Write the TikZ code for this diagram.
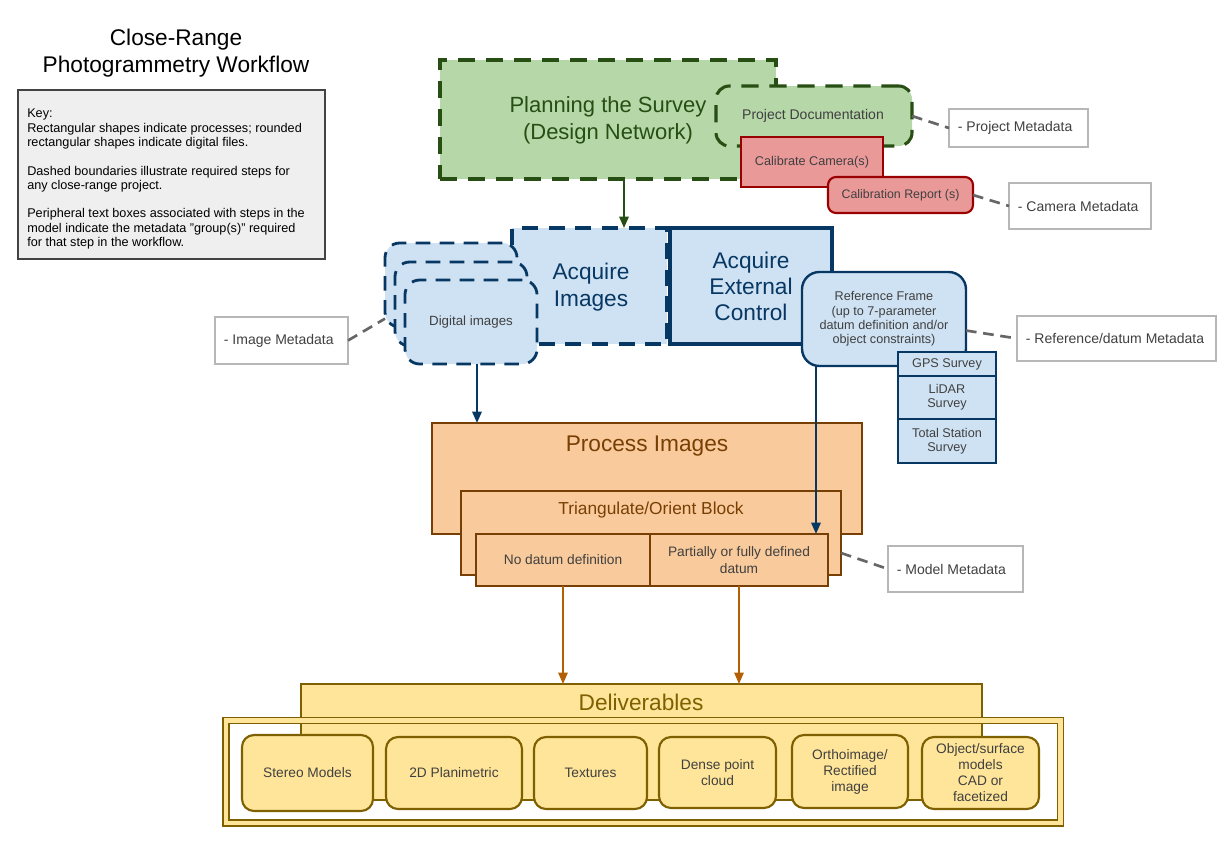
\documentclass[tikz,border=0pt]{standalone}
\usepackage{fontspec}
\setmainfont{Liberation Sans}
\usetikzlibrary{arrows.meta,fit}
\definecolor{greenF}{HTML}{B6D7A8}
\definecolor{greenD}{HTML}{274E13}
\definecolor{redF}{HTML}{EA9999}
\definecolor{redD}{HTML}{990000}
\definecolor{blueF}{HTML}{CFE2F3}
\definecolor{blueD}{HTML}{073763}
\definecolor{orangeF}{HTML}{F9CB9C}
\definecolor{orangeD}{HTML}{783F04}
\definecolor{orangeA}{HTML}{B45F06}
\definecolor{yellowF}{HTML}{FFE599}
\definecolor{yellowD}{HTML}{7F6000}
\definecolor{keyF}{HTML}{EFEFEF}
\definecolor{keyD}{HTML}{434343}
\definecolor{metaD}{HTML}{B7B7B7}
\definecolor{lineG}{HTML}{666666}
\definecolor{textgray}{HTML}{404040}
\newcommand\mymeta[6]{%
  \node[metabox, fit={(#2,#3)(#4,#5)}] (#1) {};
  \node[metatext, anchor=west] (#1t) at ([xshift=6.5pt]#1.west) {#6};
}
\newcommand\intext[4][]{%
  \node[txt, #1] (#2t) at (#2.center) {#4};
}
\begin{document}
\begin{tikzpicture}[x=0.75pt,y=-0.75pt,
  box/.style={inner sep=0pt, outer sep=0pt},
  txt/.style={inner sep=0pt, align=center, text=textgray},
  greenbox/.style={box, draw=greenD, fill=greenF, line width=2.3pt, dash pattern=on 13pt off 8pt},
  bluedash/.style={box, draw=blueD, fill=blueF, line width=2.3pt, dash pattern=on 12pt off 8pt},
  digbox/.style={box, draw=blueD, fill=blueF, line width=2.1pt, rounded corners=11pt, dash pattern=on 11pt off 7pt},
  gpscell/.style={box, draw=blueD, fill=blueF, line width=1.6pt},
  small/.style={font=\fontsize{9.5}{10.7}\selectfont},
  procbox/.style={box, draw=orangeD, fill=orangeF, line width=1.6pt},
  dbox/.style={box, draw=yellowD, fill=yellowF, line width=1.6pt, rounded corners=9pt},
  dfont/.style={font=\fontsize{10.3}{12}\selectfont},
  big/.style={font=\fontsize{17}{20.25}\selectfont},
  metabox/.style={box, draw=metaD, fill=white, line width=1.1pt},
  metatext/.style={inner sep=0pt, text=textgray, font=\fontsize{10.5}{12}\selectfont},
  metaline/.style={draw=lineG, line width=2pt, dash pattern=on 8pt off 5pt},
  arr/.style={line width=1.5pt, -{Triangle[length=8.5pt,width=7pt]}},
]
\useasboundingbox (0,0) rectangle (1228,857);

% title and key
\node[align=center, inner sep=0pt, font=\fontsize{17}{20.25}\selectfont] (title) at (176,53) {Close-Range\\Photogrammetry Workflow};
\node[box, draw=keyD, fill=keyF, line width=1.5pt, fit={(18,90)(325,259)}] (keybox) {};
\node[anchor=north west, align=left, inner sep=0pt, font=\fontsize{9.5}{10.7}\selectfont] (keytext) at (27,109) {Key:\\Rectangular shapes indicate processes; rounded\\rectangular shapes indicate digital files.\\[10.7pt]Dashed boundaries illustrate required steps for\\any close-range project.\\[10.7pt]Peripheral text boxes associated with steps in the\\model indicate the metadata "group(s)" required\\for that step in the workflow.};

% planning
\node[greenbox, fit={(440,60)(776,179)}] (plan) {};
\node[align=center, inner sep=0pt, text=greenD, font=\fontsize{16.5}{20}\selectfont] (plantext) at (608,120) {Planning the Survey\\(Design Network)};
\node[greenbox, rounded corners=10pt, fit={(716,86)(912,146)}] (projdoc) {};
\node[txt, font=\fontsize{10.5}{12}\selectfont] (projdoct) at (813,116) {Project Documentation};
\node[box, draw=redD, fill=redF, line width=1.6pt, fit={(741,137)(883,187)}] (calcam) {};
\intext[font=\fontsize{9.5}{11}\selectfont]{calcam}{}{Calibrate Camera(s)}
\node[box, draw=redD, fill=redF, line width=1.6pt, rounded corners=6pt, fit={(828,177)(973,213)}] (calrep) {};
\intext[font=\fontsize{9.3}{11}\selectfont]{calrep}{}{Calibration Report (s)}

% acquire
\node[bluedash, fit={(512,228)(667,344)}] (acqimg) {};
\node[txt, big, text=blueD] (acqimgt) at (591,287) {Acquire\\Images};
\node[box, draw=blueD, fill=blueF, line width=2.3pt, fit={(670,228)(832,344)}] (extctl) {};
\intext[font=\fontsize{17}{19.5}\selectfont, text=blueD]{extctl}{}{Acquire\\External\\Control}
\node[digbox, fit={(385,243)(517,327)}] (dig1) {};
\node[digbox, fit={(395,262)(527,346)}] (dig2) {};
\node[digbox, fit={(405,280)(537,364)}] (dig3) {};
\intext[font=\fontsize{10}{12}\selectfont]{dig3}{}{Digital images}
\node[box, draw=blueD, fill=blueF, line width=1.8pt, rounded corners=13pt, fit={(802,272)(966,366)}] (refframe) {};
\intext[small]{refframe}{}{Reference Frame\\(up to 7-parameter\\datum definition and/or\\object constraints)}
\node[gpscell, fit={(898,352)(996,376)}] (gps) {};
\intext[small]{gps}{}{GPS Survey}
\node[gpscell, fit={(898,376)(996,419)}] (lidar) {};
\intext[small]{lidar}{}{LiDAR\\Survey}
\node[gpscell, fit={(898,419)(996,463)}] (tss) {};
\intext[small]{tss}{}{Total Station\\Survey}

% process
\node[procbox, fit={(432,423)(862,534)}] (proc) {};
\node[inner sep=0pt, text=orangeD, font=\fontsize{17}{20}\selectfont] (proctext) at (647,446) {Process Images};
\node[procbox, fit={(461,491)(841,575)}] (tri) {};
\node[inner sep=0pt, text=orangeD, font=\fontsize{13}{15}\selectfont] (tritext) at (651,510) {Triangulate/Orient Block};
\node[procbox, fit={(476,534)(650,586)}] (cellA) {};
\intext[font=\fontsize{10.3}{12.5}\selectfont]{cellA}{}{No datum definition}
\node[procbox, fit={(650,534)(828,586)}] (cellB) {};
\intext[font=\fontsize{10.3}{12.5}\selectfont]{cellB}{}{Partially or fully defined\\datum}

% deliverables
\node[box, fill=white, fit={(229,724)(1057,819)}] (framebg) {};
\node[box, draw=yellowD, fill=yellowF, line width=1.6pt, fit={(301,684)(982,800)}] (deliv) {};
\node[inner sep=0pt, text=yellowD, font=\fontsize{17}{20}\selectfont] (delivtext) at (641,702) {Deliverables};
\node[box, draw=yellowD, double=yellowF, double distance=3.2pt, line width=1.3pt, fit={(226,720.5)(1060.5,823)}] (frame) {};
\node[dbox, fit={(242,735)(373,811)}] (d1) {};
\intext[dfont]{d1}{}{Stereo Models}
\node[dbox, fit={(386,737)(522,809)}] (d2) {};
\intext[dfont]{d2}{}{2D Planimetric}
\node[dbox, fit={(534,737)(647,809)}] (d3) {};
\intext[dfont]{d3}{}{Textures}
\node[dbox, fit={(659,737)(776,808)}] (d4) {};
\intext[dfont]{d4}{}{Dense point\\cloud}
\node[dbox, fit={(792,735)(908,808)}] (d5) {};
\intext[dfont]{d5}{}{Orthoimage/\\Rectified\\image}
\node[dbox, fit={(922,737)(1039,809)}] (d6) {};
\intext[dfont]{d6}{}{Object/surface\\models\\CAD or\\facetized}

% metadata boxes
\mymeta{projmeta}{949}{109}{1088}{147}{- Project Metadata}
\mymeta{cammeta}{1009}{183}{1151}{229}{- Camera Metadata}
\mymeta{refmeta}{1017}{316}{1216}{361}{- Reference/datum Metadata}
\mymeta{imgmeta}{215}{317}{348}{364}{- Image Metadata}
\mymeta{modmeta}{888}{546}{1023}{592}{- Model Metadata}

% connectors
\draw[metaline] (projdoc.east) -- (projmeta.west);
\draw[metaline] (calrep.east) -- (cammeta.west);
\draw[metaline] (refframe.-8) -- (refmeta.west);
\draw[metaline] (imgmeta.east) -- (dig1.207);
\draw[metaline] (tri.-6) -- (modmeta.west);

% arrows
\coordinate (ax1) at (624,0);
\coordinate (ax2) at (477,0);
\coordinate (ax3) at (816,0);
\draw[arr, draw=greenD, fill=greenD] (plan.south -| ax1) -- (acqimg.north -| ax1);
\draw[arr, draw=blueD, fill=blueD] (dig3.south -| ax2) -- (proc.north -| ax2);
\draw[arr, draw=blueD, fill=blueD] (refframe.south -| ax3) -- (cellB.north -| ax3);
\draw[arr, line width=1.3pt, draw=orangeA, fill=orangeA] (cellA.south) -- (deliv.north -| cellA.south);
\draw[arr, line width=1.3pt, draw=orangeA, fill=orangeA] (cellB.south) -- (deliv.north -| cellB.south);
\end{tikzpicture}
\end{document}
